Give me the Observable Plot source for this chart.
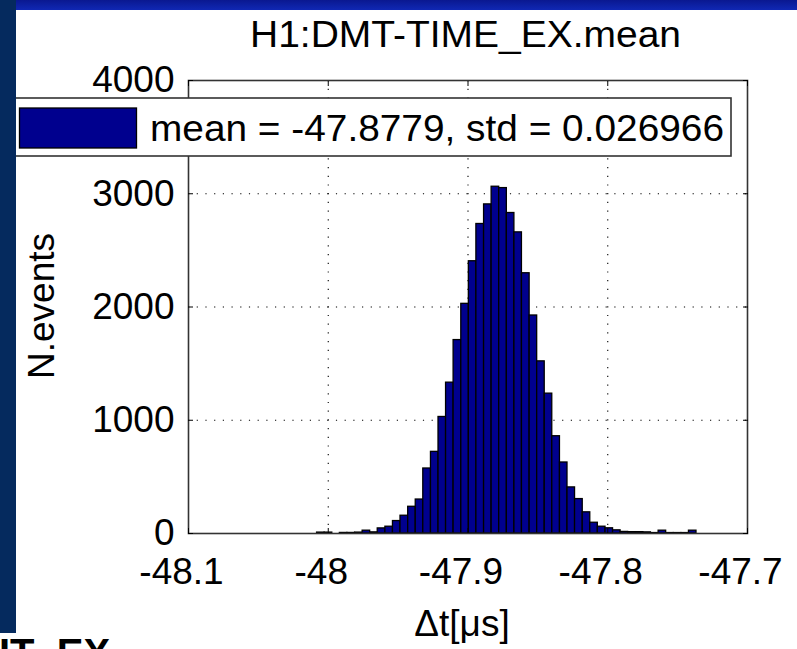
<!DOCTYPE html>
<html>
<head>
<meta charset="utf-8">
<script src="https://cdn.jsdelivr.net/npm/d3@7"></script>
<script src="https://cdn.jsdelivr.net/npm/@observablehq/plot@0.6"></script>
<style>
  html, body { margin: 0; padding: 0; background: #fff; }
  #page { position: relative; width: 797px; height: 649px; overflow: hidden; background: #fff;
          font-family: "Liberation Sans", Arial, Helvetica, sans-serif; }
  #chart, #overlay { position: absolute; left: 0; top: 0; }
  #band { position: absolute; left: 0; top: 0; width: 797px; height: 10px;
          background: linear-gradient(#0a1890, #1028b4); }
  #strip { position: absolute; left: 0; top: 0; width: 16px; height: 633px; background: #052a5e; }
  #footer { position: absolute; left: 0; top: 0; }
</style>
</head>
<body>
<div id="page">
  <div id="chart"></div>
  <svg id="overlay" width="797" height="649"></svg>
  <div id="band"></div>
  <div id="strip"></div>
  <svg id="footer" width="797" height="649"></svg>
</div>
<script>
// Histogram of H1:DMT-TIME_EX.mean, time offset in microseconds
const binEdges = [
  -48.0134, -48.0080, -48.0026, -47.9971, -47.9917, -47.9863, -47.9808, -47.9754,
  -47.9700, -47.9646, -47.9591, -47.9537, -47.9483, -47.9428, -47.9374, -47.9320,
  -47.9265, -47.9211, -47.9157, -47.9103, -47.9048, -47.8994, -47.8940, -47.8885,
  -47.8831, -47.8777, -47.8722, -47.8668, -47.8614, -47.8559, -47.8505, -47.8451,
  -47.8397, -47.8342, -47.8288, -47.8234, -47.8179, -47.8125, -47.8071, -47.8016,
  -47.7962, -47.7908, -47.7854, -47.7799, -47.7745, -47.7691, -47.7636, -47.7582,
  -47.7528, -47.7473, -47.7419, -47.7365
];
const binCounts = [
  0, 8, 8, 0, 5, 5, 8, 25,
  10, 45, 60, 110, 157, 236, 300, 574,
  721, 1029, 1332, 1708, 2028, 2404, 2733, 2906,
  3062, 3050, 2830, 2659, 2298, 1925, 1520, 1235,
  859, 627, 407, 304, 187, 95, 60, 46,
  28, 14, 12, 12, 10, 4, 25, 4,
  4, 4, 25
];
const xTicks = [-48.1, -48, -47.9, -47.8, -47.7];
const yTicks = [0, 1000, 2000, 3000, 4000];
const xDomain = [-48.1, -47.7];
const yDomain = [0, 4000];

const titleText = "H1:DMT-TIME_EX.mean";
const legendText = "mean = -47.8779, std = 0.026966";
const xLabel = "\u0394t[\u03bcs]";
const yLabel = "N.events";
const slideText = "IT_EX";

const bins = binCounts.map((n, i) => ({x1: binEdges[i], x2: binEdges[i + 1], n}));

const barFill = "#00008e";
const fontSize = 37;

const chart = Plot.plot({
  width: 797,
  height: 649,
  marginLeft: 188,
  marginRight: 50,
  marginTop: 80,
  marginBottom: 116,
  style: {background: "transparent", fontFamily: "'Liberation Sans', Arial, sans-serif", fontSize: fontSize + "px", color: "#000"},
  x: {domain: xDomain, label: null},
  y: {domain: yDomain, label: null},
  marks: [
    Plot.gridX(xTicks.slice(1, -1), {stroke: "#000", strokeOpacity: 1, strokeWidth: 1.1, strokeDasharray: "1.2,7.5"}),
    Plot.gridY(yTicks.slice(1, -1), {stroke: "#000", strokeOpacity: 1, strokeWidth: 1.1, strokeDasharray: "1.2,7.5"}),
    Plot.rectY(bins, {x1: "x1", x2: "x2", y: "n", fill: barFill, stroke: "#000", strokeWidth: 1.3}),
    Plot.frame({stroke: "#333", strokeWidth: 1.6}),
    // inward tick marks on all four sides
    Plot.axisX(xTicks, {anchor: "bottom", tickSize: 5, dy: -5, fill: "none", stroke: "#000", label: null}),
    Plot.axisX(xTicks, {anchor: "top", tickSize: 5, dy: 5, fill: "none", stroke: "#000", label: null}),
    Plot.axisY(yTicks, {anchor: "left", tickSize: 5, dx: 5, fill: "none", stroke: "#000", label: null}),
    Plot.axisY(yTicks, {anchor: "right", tickSize: 5, dx: -5, fill: "none", stroke: "#000", label: null}),
    // tick labels
    Plot.axisX(xTicks, {anchor: "bottom", tickSize: 0, tickPadding: 24, dx: -7, fontSize, fill: "#000", label: null, tickFormat: d => String(d)}),
    Plot.axisY(yTicks, {anchor: "left", tickSize: 0, tickPadding: 14, fontSize, fill: "#000", label: null, tickFormat: d => String(d)})
  ]
});
document.getElementById("chart").appendChild(chart);

// Title, axis labels and legend box
const ov = d3.select("#overlay");
const font = "'Liberation Sans', Arial, sans-serif";
ov.append("text").attr("x", 250).attr("y", 46.5)
  .attr("textLength", 431).attr("lengthAdjust", "spacingAndGlyphs")
  .attr("font-family", font).attr("font-size", fontSize).attr("fill", "#000").text(titleText);
ov.append("text").attr("x", 462).attr("y", 636).attr("text-anchor", "middle")
  .attr("font-family", font).attr("font-size", fontSize).attr("fill", "#000").text(xLabel);
ov.append("text").attr("transform", "translate(54,306) rotate(-90)").attr("text-anchor", "middle")
  .attr("font-family", font).attr("font-size", fontSize).attr("fill", "#000").text(yLabel);

const lg = ov.append("g");
lg.append("rect").attr("x", 4).attr("y", 98).attr("width", 727).attr("height", 58)
  .attr("fill", "#fff").attr("stroke", "#333").attr("stroke-width", 1.6);
lg.append("rect").attr("x", 19.5).attr("y", 108).attr("width", 117).attr("height", 40)
  .attr("fill", barFill).attr("stroke", "#000").attr("stroke-width", 1.3);
lg.append("text").attr("x", 150).attr("y", 141)
  .attr("textLength", 574).attr("lengthAdjust", "spacingAndGlyphs")
  .attr("font-family", font).attr("font-size", fontSize).attr("fill", "#000").text(legendText);

// Slide body text running below the figure
d3.select("#footer").append("text").attr("x", -1).attr("y", 667)
  .attr("font-family", font).attr("font-weight", "bold").attr("font-size", 40)
  .attr("fill", "#000").text(slideText);
</script>
</body>
</html>
